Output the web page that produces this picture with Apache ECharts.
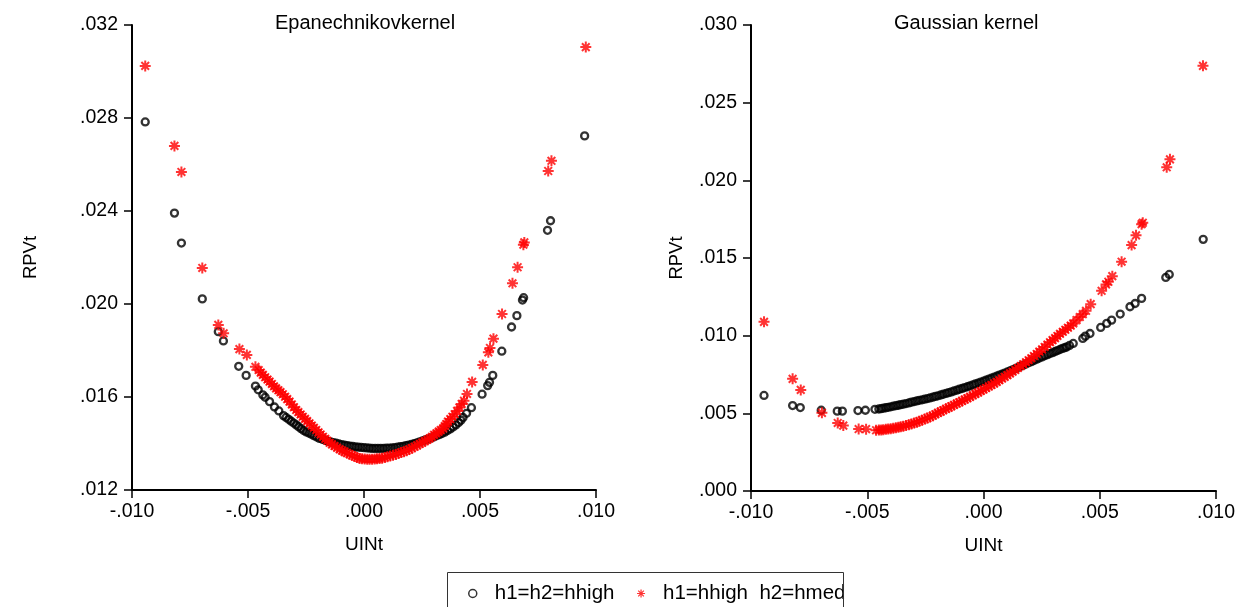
<!DOCTYPE html>
<html>
<head>
<meta charset="utf-8">
<script src="https://cdn.jsdelivr.net/npm/echarts@6/dist/echarts.min.js"></script>
<style>
html,body{margin:0;padding:0;background:#fff;}
#chart{width:1245px;height:607px;}
</style>
</head>
<body>
<div id="chart"></div>
<script>
// ---------- DATA ----------
const panelTitles = ['Epanechnikovkernel', 'Gaussian kernel'];
const xAxisName = 'UINt';
const yAxisName = 'RPVt';
const seriesNames = ['h1=h2=hhigh', 'h1=hhigh  h2=hmed'];
const xRange = [-0.010, 0.010, 0.005];
const yRangeLeft = [0.012, 0.032, 0.004];
const yRangeRight = [0.000, 0.030, 0.005];

// Epanechnikov kernel, h1=h2=hhigh
const epanHigh = [
[-0.00943,0.02783],[-0.00817,0.02391],[-0.00787,0.02262],[-0.00697,0.02022],[-0.00628,0.01881],
[-0.00606,0.01841],[-0.00540,0.01732],[-0.00508,0.01693],[-0.00468,0.01647],[-0.00456,0.01631],
[-0.00436,0.01609],[-0.00426,0.01599],[-0.00407,0.01580],[-0.00386,0.01557],[-0.00367,0.01540],
[-0.00347,0.01520],[-0.00336,0.01512],[-0.00325,0.01504],[-0.00314,0.01496],[-0.00303,0.01488],
[-0.00292,0.01480],[-0.00282,0.01472],[-0.00271,0.01464],[-0.00260,0.01456],[-0.00249,0.01450],
[-0.00238,0.01445],[-0.00227,0.01440],[-0.00216,0.01434],[-0.00204,0.01428],[-0.00192,0.01422],
[-0.00180,0.01418],[-0.00168,0.01414],[-0.00156,0.01410],[-0.00144,0.01407],[-0.00132,0.01404],
[-0.00120,0.01401],[-0.00108,0.01398],[-0.00096,0.01395],[-0.00084,0.01393],[-0.00072,0.01391],
[-0.00060,0.01389],[-0.00048,0.01387],[-0.00036,0.01385],[-0.00024,0.01384],[-0.00012,0.01383],
[0.00000,0.01382],[0.00012,0.01381],[0.00024,0.01380],[0.00036,0.01379],[0.00048,0.01379],
[0.00060,0.01379],[0.00072,0.01379],[0.00084,0.01379],[0.00096,0.01380],[0.00108,0.01380],
[0.00120,0.01381],[0.00132,0.01382],[0.00144,0.01384],[0.00156,0.01386],[0.00168,0.01388],
[0.00180,0.01391],[0.00192,0.01393],[0.00204,0.01396],[0.00216,0.01399],[0.00228,0.01403],
[0.00240,0.01407],[0.00252,0.01411],[0.00264,0.01415],[0.00276,0.01419],[0.00288,0.01423],
[0.00300,0.01428],[0.00312,0.01433],[0.00324,0.01438],[0.00336,0.01443],[0.00348,0.01449],
[0.00360,0.01456],[0.00372,0.01463],[0.00384,0.01471],[0.00396,0.01480],[0.00408,0.01490],
[0.00418,0.01500],[0.00427,0.01512],[0.00442,0.01530],[0.00463,0.01554],[0.00509,0.01612],
[0.00533,0.01649],[0.00541,0.01663],[0.00555,0.01693],[0.00594,0.01797],[0.00636,0.01901],
[0.00659,0.01950],[0.00683,0.02017],[0.00688,0.02027],[0.00791,0.02317],[0.00804,0.02358],
[0.00951,0.02723]
];

// Epanechnikov kernel, h1=hhigh h2=hmed
const epanMed = [
[-0.00943,0.03024],[-0.00817,0.02680],[-0.00787,0.02568],[-0.00697,0.02155],[-0.00628,0.01910],
[-0.00605,0.01874],[-0.00537,0.01806],[-0.00505,0.01781],[-0.00468,0.01730],[-0.00454,0.01716],
[-0.00445,0.01705],[-0.00436,0.01695],[-0.00426,0.01685],[-0.00416,0.01675],[-0.00407,0.01666],
[-0.00397,0.01656],[-0.00388,0.01646],[-0.00379,0.01637],[-0.00369,0.01629],[-0.00360,0.01621],
[-0.00350,0.01612],[-0.00340,0.01601],[-0.00331,0.01591],[-0.00321,0.01580],[-0.00311,0.01568],
[-0.00302,0.01556],[-0.00292,0.01544],[-0.00283,0.01535],[-0.00273,0.01525],[-0.00264,0.01515],
[-0.00254,0.01506],[-0.00245,0.01496],[-0.00235,0.01487],[-0.00225,0.01477],[-0.00216,0.01468],
[-0.00206,0.01458],[-0.00196,0.01448],[-0.00187,0.01439],[-0.00177,0.01429],[-0.00167,0.01420],
[-0.00158,0.01412],[-0.00148,0.01403],[-0.00138,0.01396],[-0.00127,0.01389],[-0.00116,0.01382],
[-0.00105,0.01375],[-0.00094,0.01369],[-0.00084,0.01364],[-0.00073,0.01359],[-0.00062,0.01354],
[-0.00051,0.01349],[-0.00040,0.01344],[-0.00030,0.01340],[-0.00019,0.01336],[-0.00008,0.01334],
[0.00003,0.01333],[0.00014,0.01332],[0.00024,0.01332],[0.00035,0.01332],[0.00046,0.01333],
[0.00056,0.01334],[0.00067,0.01335],[0.00078,0.01337],[0.00090,0.01340],[0.00101,0.01343],
[0.00113,0.01346],[0.00125,0.01349],[0.00137,0.01353],[0.00149,0.01357],[0.00160,0.01361],
[0.00172,0.01365],[0.00183,0.01369],[0.00195,0.01374],[0.00206,0.01380],[0.00218,0.01386],
[0.00229,0.01392],[0.00240,0.01398],[0.00251,0.01404],[0.00262,0.01410],[0.00273,0.01416],
[0.00283,0.01422],[0.00293,0.01429],[0.00302,0.01437],[0.00312,0.01444],[0.00322,0.01451],
[0.00331,0.01458],[0.00341,0.01465],[0.00348,0.01475],[0.00355,0.01484],[0.00362,0.01494],
[0.00372,0.01505],[0.00381,0.01515],[0.00391,0.01526],[0.00401,0.01540],[0.00411,0.01555],
[0.00421,0.01570],[0.00431,0.01584],[0.00444,0.01613],[0.00466,0.01665],[0.00512,0.01738],
[0.00536,0.01792],[0.00543,0.01811],[0.00558,0.01851],[0.00595,0.01957],[0.00640,0.02089],
[0.00662,0.02158],[0.00687,0.02255],[0.00691,0.02265],[0.00794,0.02572],[0.00808,0.02616],
[0.00956,0.03105]
];

// Gaussian kernel, h1=h2=hhigh
const gaussHigh = [
[-0.00944,0.00615],[-0.00821,0.00550],[-0.00788,0.00537],[-0.00698,0.00520],[-0.00629,0.00514],
[-0.00607,0.00514],[-0.00540,0.00518],[-0.00508,0.00520],[-0.00467,0.00526],[-0.00450,0.00528],
[-0.00440,0.00530],[-0.00431,0.00533],[-0.00420,0.00536],[-0.00410,0.00539],[-0.00399,0.00542],
[-0.00388,0.00546],[-0.00377,0.00549],[-0.00366,0.00552],[-0.00356,0.00556],[-0.00345,0.00559],
[-0.00333,0.00563],[-0.00321,0.00567],[-0.00310,0.00572],[-0.00298,0.00576],[-0.00287,0.00580],
[-0.00276,0.00584],[-0.00264,0.00587],[-0.00253,0.00591],[-0.00241,0.00595],[-0.00230,0.00599],
[-0.00218,0.00604],[-0.00207,0.00609],[-0.00196,0.00613],[-0.00184,0.00618],[-0.00173,0.00623],
[-0.00161,0.00628],[-0.00150,0.00633],[-0.00138,0.00638],[-0.00127,0.00644],[-0.00115,0.00649],
[-0.00104,0.00655],[-0.00092,0.00660],[-0.00081,0.00666],[-0.00069,0.00671],[-0.00058,0.00677],
[-0.00046,0.00683],[-0.00035,0.00689],[-0.00023,0.00695],[-0.00012,0.00701],[0.00000,0.00707],
[0.00011,0.00713],[0.00023,0.00720],[0.00034,0.00726],[0.00046,0.00733],[0.00057,0.00739],
[0.00068,0.00746],[0.00080,0.00753],[0.00091,0.00759],[0.00103,0.00766],[0.00114,0.00773],
[0.00125,0.00780],[0.00137,0.00788],[0.00148,0.00795],[0.00160,0.00803],[0.00171,0.00810],
[0.00183,0.00818],[0.00194,0.00826],[0.00206,0.00833],[0.00217,0.00841],[0.00229,0.00849],
[0.00240,0.00856],[0.00252,0.00863],[0.00263,0.00871],[0.00275,0.00878],[0.00286,0.00885],
[0.00297,0.00891],[0.00308,0.00898],[0.00318,0.00904],[0.00329,0.00911],[0.00340,0.00918],
[0.00350,0.00923],[0.00358,0.00928],[0.00370,0.00937],[0.00386,0.00950],[0.00427,0.00982],
[0.00438,0.00997],[0.00458,0.01014],[0.00504,0.01053],[0.00530,0.01079],[0.00551,0.01100],
[0.00588,0.01139],[0.00630,0.01186],[0.00652,0.01207],[0.00680,0.01240],[0.00784,0.01375],
[0.00799,0.01394],[0.00945,0.01620]
];

// Gaussian kernel, h1=hhigh h2=hmed
const gaussMed = [
[-0.00944,0.01089],[-0.00821,0.00722],[-0.00786,0.00651],[-0.00695,0.00503],[-0.00627,0.00438],
[-0.00603,0.00421],[-0.00537,0.00399],[-0.00505,0.00398],[-0.00462,0.00391],[-0.00450,0.00392],
[-0.00440,0.00393],[-0.00431,0.00395],[-0.00420,0.00397],[-0.00410,0.00399],[-0.00399,0.00401],
[-0.00388,0.00404],[-0.00377,0.00407],[-0.00366,0.00410],[-0.00356,0.00413],[-0.00345,0.00417],
[-0.00333,0.00422],[-0.00321,0.00427],[-0.00310,0.00432],[-0.00298,0.00437],[-0.00287,0.00443],
[-0.00276,0.00449],[-0.00264,0.00456],[-0.00253,0.00463],[-0.00241,0.00470],[-0.00230,0.00477],
[-0.00218,0.00485],[-0.00207,0.00494],[-0.00196,0.00503],[-0.00184,0.00511],[-0.00173,0.00520],
[-0.00161,0.00529],[-0.00150,0.00537],[-0.00138,0.00546],[-0.00127,0.00554],[-0.00115,0.00563],
[-0.00104,0.00571],[-0.00092,0.00580],[-0.00081,0.00589],[-0.00069,0.00597],[-0.00058,0.00606],
[-0.00046,0.00616],[-0.00035,0.00625],[-0.00023,0.00634],[-0.00012,0.00644],[0.00000,0.00653],
[0.00011,0.00663],[0.00023,0.00673],[0.00034,0.00682],[0.00046,0.00692],[0.00057,0.00702],
[0.00068,0.00713],[0.00080,0.00724],[0.00091,0.00735],[0.00103,0.00746],[0.00114,0.00757],
[0.00125,0.00768],[0.00137,0.00780],[0.00148,0.00792],[0.00160,0.00804],[0.00171,0.00816],
[0.00183,0.00829],[0.00194,0.00842],[0.00206,0.00855],[0.00217,0.00869],[0.00229,0.00882],
[0.00240,0.00897],[0.00252,0.00912],[0.00263,0.00927],[0.00275,0.00943],[0.00286,0.00958],
[0.00297,0.00971],[0.00308,0.00984],[0.00318,0.00998],[0.00329,0.01012],[0.00341,0.01025],
[0.00352,0.01038],[0.00363,0.01051],[0.00375,0.01065],[0.00386,0.01079],[0.00400,0.01100],
[0.00414,0.01120],[0.00427,0.01139],[0.00441,0.01160],[0.00461,0.01203],[0.00508,0.01289],
[0.00527,0.01330],[0.00537,0.01347],[0.00554,0.01383],[0.00594,0.01476],[0.00637,0.01583],
[0.00656,0.01646],[0.00680,0.01718],[0.00685,0.01727],[0.00788,0.02084],[0.00802,0.02135],
[0.00944,0.02737]
];

// ---------- CHART ----------
const FONT = "'Liberation Sans', Arial, sans-serif";
const STAR = 'path://M5,0L5,10M0,5L10,5M1.5,1.5L8.5,8.5M8.5,1.5L1.5,8.5';
const fmt = v => {
  let s = Math.abs(v) < 1e-12 ? '0.000' : v.toFixed(3);
  return s.replace('0.', '.');
};

function xAxisCfg(gi) {
  return {
    gridIndex: gi, type: 'value', min: xRange[0], max: xRange[1], interval: xRange[2],
    name: xAxisName, nameLocation: 'middle', nameGap: 45,
    nameTextStyle: { fontFamily: FONT, fontSize: 19, color: '#000' },
    splitLine: { show: false },
    axisLine: { onZero: false, lineStyle: { color: '#000', width: 2 } },
    axisTick: { inside: false, length: 8, lineStyle: { color: '#000', width: 1.5 } },
    axisLabel: { formatter: fmt, fontFamily: FONT, fontSize: 19.5, color: '#000', margin: 12 }
  };
}
function yAxisCfg(gi, r, gap) {
  return {
    gridIndex: gi, type: 'value', min: r[0], max: r[1], interval: r[2],
    name: yAxisName, nameLocation: 'middle', nameGap: gap, nameRotate: 90,
    nameTextStyle: { fontFamily: FONT, fontSize: 18.5, color: '#000' },
    splitLine: { show: false },
    axisLine: { onZero: false, lineStyle: { color: '#000', width: 2 } },
    axisTick: { inside: false, length: 8, lineStyle: { color: '#000', width: 1.5 } },
    axisLabel: { formatter: fmt, fontFamily: FONT, fontSize: 19.5, color: '#000', margin: 14 }
  };
}

const highStyle = { color: 'rgba(0,0,0,0)', borderColor: '#000', borderWidth: 2.3 };
const medStyle = { color: '#ff0000', borderColor: '#ff0000', borderWidth: 2 };
const legendHigh = { color: 'rgba(0,0,0,0)', borderColor: '#000', borderWidth: 1.5 };
const legendMed = { color: '#ff0000', borderColor: '#ff0000', borderWidth: 1.2 };

const chart = echarts.init(document.getElementById('chart'), null, { renderer: 'canvas' });
chart.setOption({
  animation: false,
  backgroundColor: '#fff',
  title: [
    { text: panelTitles[0], left: 270, top: 8, textStyle: { fontFamily: FONT, fontSize: 20, fontWeight: 'normal', color: '#000' } },
    { text: panelTitles[1], left: 889, top: 8, textStyle: { fontFamily: FONT, fontSize: 20, fontWeight: 'normal', color: '#000' } }
  ],
  grid: [
    { left: 132, top: 25, width: 464, height: 465, outerBoundsMode: 'none' },
    { left: 751, top: 25, width: 465, height: 466, outerBoundsMode: 'none' }
  ],
  xAxis: [xAxisCfg(0), xAxisCfg(1)],
  yAxis: [yAxisCfg(0, yRangeLeft, 92), yAxisCfg(1, yRangeRight, 65)],
  legend: {
    left: 463, top: 578, itemWidth: 8, itemHeight: 8, itemGap: 22,
    textStyle: { fontFamily: FONT, fontSize: 20.5, color: '#000', padding: [0, 0, 0, 13] },
    data: [
      { name: seriesNames[0], icon: 'circle', itemStyle: legendHigh },
      { name: seriesNames[1], icon: STAR, itemStyle: legendMed }
    ]
  },
  graphic: [
    { type: 'rect', shape: { x: 447.5, y: 572.5, width: 396, height: 50 }, style: { fill: 'none', stroke: '#333', lineWidth: 1 }, z: 100 }
  ],
  series: [
    { name: seriesNames[0], type: 'scatter', xAxisIndex: 0, yAxisIndex: 0, data: epanHigh, symbol: 'circle', symbolSize: 7, itemStyle: highStyle },
    { name: seriesNames[1], type: 'scatter', xAxisIndex: 0, yAxisIndex: 0, data: epanMed, symbol: STAR, symbolSize: 11, itemStyle: medStyle },
    { name: seriesNames[0], type: 'scatter', xAxisIndex: 1, yAxisIndex: 1, data: gaussHigh, symbol: 'circle', symbolSize: 7, itemStyle: highStyle },
    { name: seriesNames[1], type: 'scatter', xAxisIndex: 1, yAxisIndex: 1, data: gaussMed, symbol: STAR, symbolSize: 11, itemStyle: medStyle }
  ]
});
</script>
</body>
</html>
